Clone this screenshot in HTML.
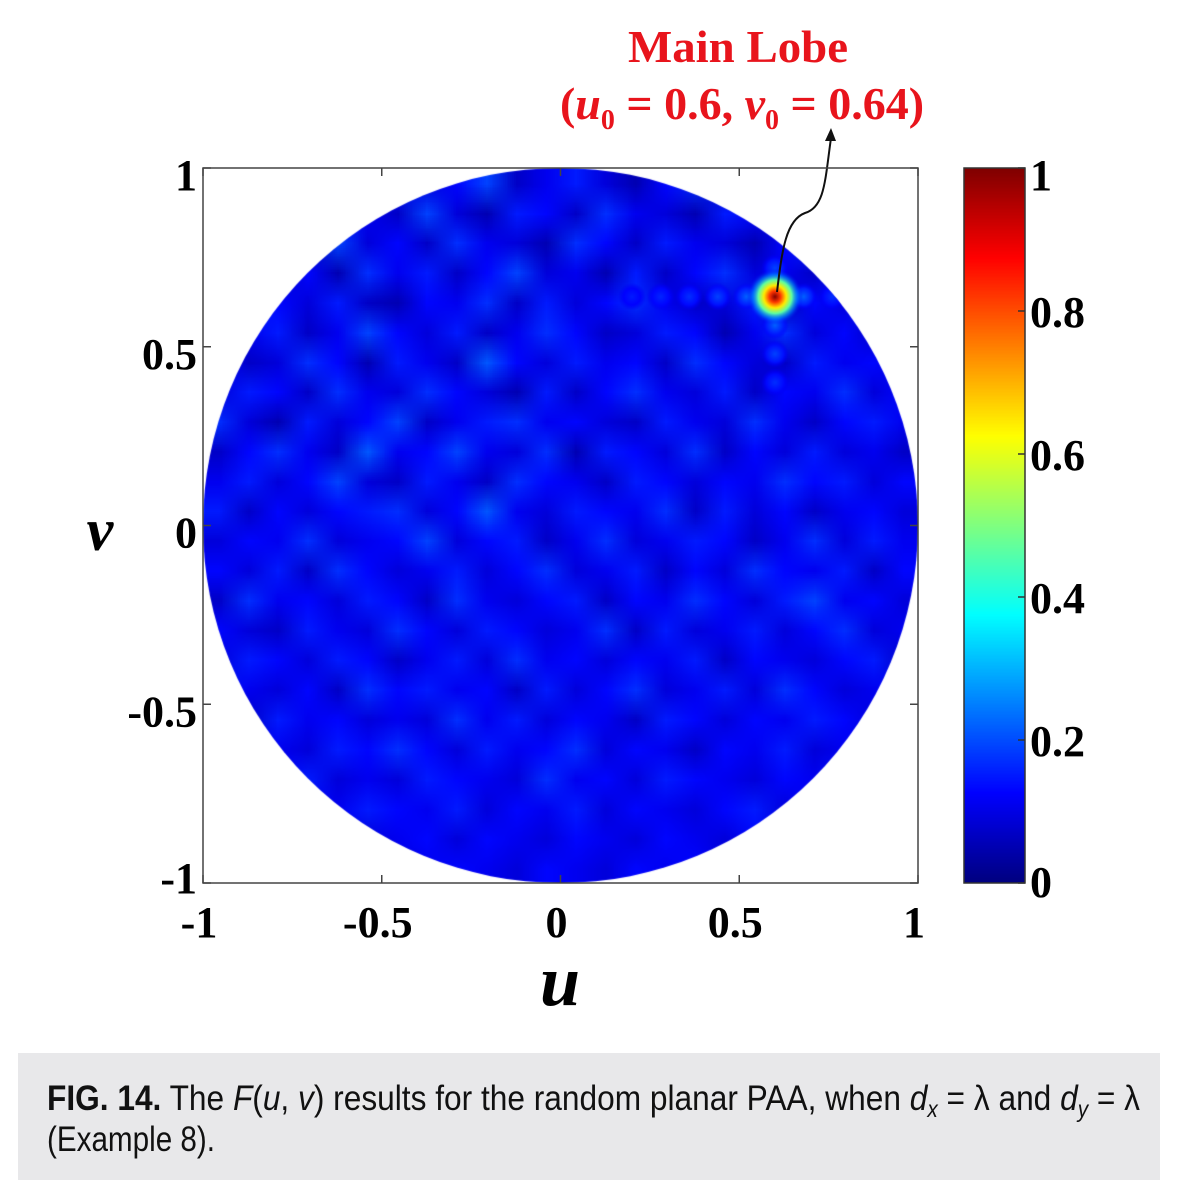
<!DOCTYPE html>
<html><head><meta charset="utf-8"><style>
html,body{margin:0;padding:0;background:#fff;width:1181px;height:1200px;overflow:hidden}
#heat{position:absolute;left:203px;top:168px}
#cbar{position:absolute;left:964px;top:168px}
svg{position:absolute;left:0;top:0}
</style></head><body>
<canvas id="heat" width="715" height="715"></canvas>
<canvas id="cbar" width="61" height="715"></canvas>
<svg id="ov" width="1181" height="1200">
 <g font-family="Liberation Serif, serif" font-weight="bold" fill="#e8141c" text-anchor="middle">
  <text x="738" y="62" font-size="46" textLength="220" lengthAdjust="spacingAndGlyphs">Main Lobe</text>
  <text x="742" y="119" font-size="46">(<tspan font-style="italic">u</tspan><tspan font-size="28" dy="10">0</tspan><tspan dy="-10"> = 0.6, </tspan><tspan font-style="italic">v</tspan><tspan font-size="28" dy="10">0</tspan><tspan dy="-10"> = 0.64)</tspan></text>
 </g>
 <path d="M777,292 C782,250 786,220 805,213 C825,207 825,180 831,138" fill="none" stroke="#111" stroke-width="2"/>
 <polygon points="831,128 825,141 836,141" fill="#111"/>
 <g id="axes"></g>
 <text x="560" y="1005" font-family="Liberation Serif, serif" font-weight="bold" font-style="italic" font-size="72" text-anchor="middle">u</text>
 <text x="100" y="550" font-family="Liberation Serif, serif" font-weight="bold" font-style="italic" font-size="60" text-anchor="middle">v</text>
 <rect x="18" y="1053" width="1142" height="127" fill="#e8e8ea"/>
 <g font-family="Liberation Sans, sans-serif" font-size="35" fill="#111">
  <text x="47" y="1110" textLength="1093" lengthAdjust="spacingAndGlyphs"><tspan font-weight="bold">FIG. 14.</tspan>  The <tspan font-style="italic">F</tspan>(<tspan font-style="italic">u</tspan>, <tspan font-style="italic">v</tspan>) results for the random planar PAA, when <tspan font-style="italic">d</tspan><tspan font-size="23" dy="7" font-style="italic">x</tspan><tspan dy="-7"> = λ and </tspan><tspan font-style="italic">d</tspan><tspan font-size="23" dy="7" font-style="italic">y</tspan><tspan dy="-7"> = λ</tspan></text>
  <text x="47" y="1151" textLength="168" lengthAdjust="spacingAndGlyphs">(Example 8).</text>
 </g>
</svg>
<script>
// heatmap background field, values in percent (rows top v=1 → bottom v=-1, cols u=-1 → 1)
const field = [
[10,12,9,14,11,8,13,10,12,15,9,11,13,10,8,12,14,9,11,10,13,9,12,10],
[12,8,14,10,13,11,9,15,10,8,13,12,9,14,11,10,8,13,12,9,11,14,10,12],
[9,13,11,8,15,10,12,9,14,11,10,8,14,12,9,13,11,10,8,12,14,10,9,11],
[13,10,9,12,8,14,11,13,9,12,15,10,11,8,13,9,12,14,10,11,9,13,12,10],
[11,14,12,10,13,9,8,12,11,14,9,13,10,12,14,11,9,10,13,8,12,10,14,9],
[8,11,13,9,11,15,12,10,13,9,11,14,12,9,10,13,12,8,11,14,10,12,9,13],
[12,9,10,14,12,8,13,11,9,16,12,10,13,11,12,9,14,12,10,9,13,11,12,10],
[10,13,12,9,14,11,10,14,12,10,8,13,9,12,14,11,10,13,9,12,11,14,10,12],
[14,10,8,13,10,12,15,9,11,13,14,11,12,10,9,13,11,10,14,11,9,12,13,11],
[9,12,14,11,9,16,11,12,15,11,10,14,8,13,12,10,14,9,12,10,13,10,11,9],
[11,13,10,12,15,10,9,13,11,9,14,12,11,9,13,12,10,12,11,14,12,13,10,12],
[13,9,12,10,12,13,14,10,12,16,11,10,13,12,11,14,9,13,10,12,9,11,12,10],
[10,12,11,14,10,11,12,15,10,12,13,9,11,14,10,11,13,12,9,11,14,10,13,11],
[12,10,13,9,14,12,10,11,13,10,12,14,10,11,13,9,12,10,14,12,11,13,9,12],
[9,14,11,12,10,13,12,9,14,11,10,12,13,9,12,11,14,12,10,13,15,11,12,10],
[12,10,9,13,11,10,14,12,10,13,12,10,11,14,9,13,10,11,13,10,12,14,10,11],
[10,13,12,10,13,12,9,11,13,10,14,11,12,10,12,11,13,9,12,11,10,12,13,9],
[13,11,10,12,9,14,12,13,11,12,9,13,10,12,14,10,11,13,10,14,12,10,11,12],
[11,9,13,11,12,10,11,10,14,11,13,10,12,11,9,13,12,10,12,11,13,12,10,11],
[9,12,11,10,13,12,14,12,10,13,11,12,14,10,12,11,9,12,11,13,10,11,12,10],
[12,10,12,13,10,11,10,13,12,11,10,14,11,12,10,13,12,11,10,12,11,13,10,12],
[10,11,9,12,11,13,12,11,13,10,12,11,13,10,12,11,10,12,13,10,12,10,11,10],
[11,12,10,11,12,10,11,12,10,12,11,10,12,11,10,12,11,10,12,11,10,12,11,12],
[10,11,12,10,11,12,10,11,12,11,10,12,11,10,12,11,12,10,11,10,12,11,10,11]
];
// main lobe
const lobeU = [0.6];
const lobeV = [0.64];
const lobePeak = [1.0];
// sidelobes along the row/column of the main lobe (offset in u or v units, value)
const sideOffsets = [-0.4,-0.32,-0.24,-0.16,-0.08,0.08,0.16,-0.08,-0.16,-0.24,0.08];
const sideAxis =    ['u','u','u','u','u','u','u','v','v','v','v'];
const sideValues =  [0.15,0.16,0.17,0.19,0.22,0.22,0.17,0.22,0.19,0.17,0.19];
// axis ticks
const xTicks = [-1,-0.5,0,0.5,1];
const xTickLabels = ['-1','-0.5','0','0.5','1'];
const yTicks = [-1,-0.5,0,0.5,1];
const yTickLabels = ['-1','-0.5','0','0.5','1'];
const cTicks = [0,0.2,0.4,0.6,0.8,1];
const cTickLabels = ['0','0.2','0.4','0.6','0.8','1'];

const X0=203,X1=918,Y0=168,Y1=883;
const sx=u=>X0+(u+1)/2*(X1-X0);
const sy=v=>Y1-(v+1)/2*(Y1-Y0);
const fieldColor=p=>0.05+(p-8)*0.02; // contrast-stretched display mapping
function jet(t){
  t=Math.max(0,Math.min(1,t));
  const f=x=>Math.max(0,Math.min(1,x));
  return [f(1.5-Math.abs(4*t-3)),f(1.5-Math.abs(4*t-2)),f(1.5-Math.abs(4*t-1))].map(c=>Math.round(c*255));
}
const hc=document.getElementById('heat'),hx=hc.getContext('2d');
const n=field.length;
const small=document.createElement('canvas');small.width=n;small.height=n;
const sc=small.getContext('2d');const img=sc.createImageData(n,n);
for(let r=0;r<n;r++)for(let c=0;c<n;c++){const col=jet(fieldColor(field[r][c]));const i=(r*n+c)*4;img.data[i]=col[0];img.data[i+1]=col[1];img.data[i+2]=col[2];img.data[i+3]=255;}
sc.putImageData(img,0,0);
hx.save();hx.beginPath();hx.arc(357.5,357.5,357.5,0,Math.PI*2);hx.clip();
hx.imageSmoothingEnabled=true;hx.drawImage(small,0,0,715,715);
function blob(px,py,rad,val){
  const g=hx.createRadialGradient(px,py,0,px,py,rad);
  const stops=[0,0.2,0.4,0.6,0.8,1];
  stops.forEach(s=>{const v=val*(1-s)+0.11*s;const c=jet(v);const a=s<0.6?1:(1-s)/0.4;g.addColorStop(s,`rgba(${c[0]},${c[1]},${c[2]},${a})`);});
  hx.fillStyle=g;hx.beginPath();hx.arc(px,py,rad,0,Math.PI*2);hx.fill();
}
for(let i=0;i<sideOffsets.length;i++){
  const u=lobeU[0]+(sideAxis[i]==='u'?sideOffsets[i]:0);
  const v=lobeV[0]+(sideAxis[i]==='v'?sideOffsets[i]:0);
  blob(sx(u)-X0,sy(v)-Y0,14,sideValues[i]);
}
for(let i=0;i<lobeU.length;i++){blob(sx(lobeU[i])-X0,sy(lobeV[i])-Y0,28,lobePeak[i]);}
hx.restore();
const cc=document.getElementById('cbar'),cx=cc.getContext('2d');
for(let y=0;y<715;y++){const c=jet(1-y/714);cx.fillStyle=`rgb(${c[0]},${c[1]},${c[2]})`;cx.fillRect(0,y,61,1);}
const NS='http://www.w3.org/2000/svg';
const ax=document.getElementById('axes');
function el(tag,attrs,txt){const e=document.createElementNS(NS,tag);for(const k in attrs)e.setAttribute(k,attrs[k]);if(txt!==undefined)e.textContent=txt;ax.appendChild(e);return e;}
const box=el('rect',{x:X0,y:Y0,width:X1-X0,height:Y1-Y0,fill:'none',stroke:'#444','stroke-width':1.5});


xTicks.forEach((t,i)=>{
  const x=sx(t);
  const a=el('line',{x1:x,y1:Y1,x2:x,y2:Y1-8,stroke:'#444','stroke-width':1.5});
  
  
  const b=el('line',{x1:x,y1:Y0,x2:x,y2:Y0+8,stroke:'#444','stroke-width':1.5});
  
  
  const l=el('text',{x:x-4,y:937,'font-family':'Liberation Serif, serif','font-weight':'bold','font-size':44,'text-anchor':'middle'},xTickLabels[i]);
  
  
});
yTicks.forEach((t,i)=>{
  const y=sy(t);
  const a=el('line',{x1:X0,y1:y,x2:X0+8,y2:y,stroke:'#444','stroke-width':1.5});
  
  
  const b=el('line',{x1:X1,y1:y,x2:X1-8,y2:y,stroke:'#444','stroke-width':1.5});
  
  
  const dy=(t===-1)?10:(t===1?22:22);
  const l=el('text',{x:197,y:y+dy,'font-family':'Liberation Serif, serif','font-weight':'bold','font-size':44,'text-anchor':'end'},yTickLabels[i]);
  
  
});
const cb=el('rect',{x:964,y:Y0,width:61,height:Y1-Y0,fill:'none',stroke:'#333','stroke-width':1.5});


cTicks.forEach((t,i)=>{
  const y=Y1-t*(Y1-Y0);
  const a=el('line',{x1:1025,y1:y,x2:1018,y2:y,stroke:'#333','stroke-width':1.5});
  
  
  const dy=(t===1)?22:(t===0?14:16);
  const l=el('text',{x:1030,y:y+dy,'font-family':'Liberation Serif, serif','font-weight':'bold','font-size':44},cTickLabels[i]);
  
  
});
</script>
</body></html>
